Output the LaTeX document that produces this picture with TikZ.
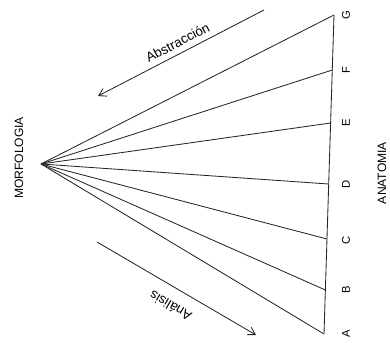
\documentclass[tikz,border=0pt]{standalone}
\usepackage{fontspec}
\setmainfont{Liberation Sans}
\usepackage{tikz}
\usetikzlibrary{positioning, arrows.meta}

\begin{document}
\begin{tikzpicture}[
    x=0.025cm, y=-0.025cm,
    fanline/.style={draw=black!85, line width=0.6pt},
    flowarrow/.style={draw=black!85, line width=0.6pt},
    letterlbl/.style={font=\fontsize{8}{9}\selectfont, rotate=90, inner sep=0pt},
    sidelbl/.style={font=\fontsize{8.6}{10}\selectfont, rotate=90, inner sep=0pt},
    arrowlbl/.style={font=\fontsize{9.5}{11}\selectfont, inner sep=2pt},
]
\useasboundingbox (0,0) rectangle (390,343);

% apex and the points on the right edge
\coordinate (apex) at (41,164);
\coordinate (pG) at (334,15);
\coordinate (pF) at (332.3,70);
\coordinate (pE) at (330.6,123);
\coordinate (pD) at (328.7,184);
\coordinate (pC) at (327,239);
\coordinate (pB) at (325.4,290);
\coordinate (pA) at (324,334);

% fan
\draw[fanline] (pG) -- (pA);
\draw[fanline] (apex) -- (pG);
\draw[fanline] (apex) -- (pF);
\draw[fanline] (apex) -- (pE);
\draw[fanline] (apex) -- (pD);
\draw[fanline] (apex) -- (pC);
\draw[fanline] (apex) -- (pB);
\draw[fanline] (apex) -- (pA);

% letters
\node[letterlbl] (lG) at (346,15)  {G};
\node[letterlbl] (lF) at (346,70)  {F};
\node[letterlbl] (lE) at (346,123) {E};
\node[letterlbl] (lD) at (346,184) {D};
\node[letterlbl] (lC) at (346,240) {C};
\node[letterlbl] (lB) at (346,290) {B};
\node[letterlbl] (lA) at (346,334) {A};

\node[sidelbl] (morf) at (19,158) {MORFOLOGIA};
\node[sidelbl] (anat) at (382,173) {ANATOMIA};

% abstraction / analysis arrows
\coordinate (absS) at (264,10);
\coordinate (absE) at (98,96);
\coordinate (anaS) at (97,242);
\coordinate (anaE) at (256,335);
\draw[flowarrow, -{Straight Barb[length=5pt, width=6pt]}] (absS) -- (absE)
   node[arrowlbl, pos=0.49, sloped, above, yshift=2pt] (abslbl) {Abstracción};
\draw[flowarrow, {Straight Barb[length=5pt, width=6pt]}-] (anaE) -- (anaS)
   node[arrowlbl, pos=0.48, sloped, allow upside down, above, yshift=7pt] (analbl) {Análisis};
\end{tikzpicture}
\end{document}
